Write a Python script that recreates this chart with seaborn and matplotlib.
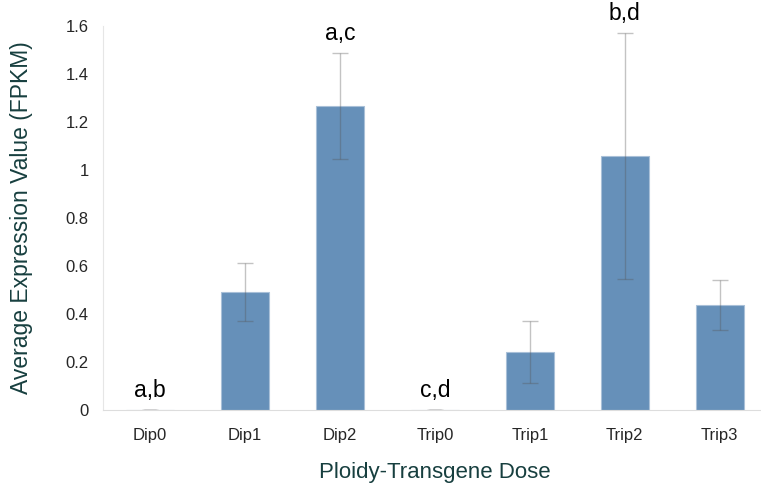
import matplotlib
matplotlib.use("Agg")
import matplotlib.pyplot as plt
import seaborn as sns
import pandas as pd

# data
groups = ["Dip0", "Dip1", "Dip2", "Trip0", "Trip1", "Trip2", "Trip3"]
fpkm = [0.0, 0.49, 1.267, 0.0, 0.242, 1.058, 0.438]
err = [0.0, 0.12, 0.22, 0.0, 0.128, 0.512, 0.104]
letters = ["a,b", "", "a,c", "c,d", "", "b,d", ""]

df = pd.DataFrame({"group": groups, "fpkm": fpkm, "err": err})

sns.set_style("white")
plt.rcParams['font.family'] = ['Liberation Sans', 'DejaVu Sans']

fig = plt.figure(figsize=(7.61, 4.88), dpi=100)
ax = fig.add_axes([0.135, 0.16, 0.873, 0.787])

sns.barplot(data=df, x="group", y="fpkm", color="#6690b9", saturation=1,
            width=0.505, ax=ax, errorbar=None)
for p in ax.patches:
    p.set_edgecolor("#a9c0d8")
    p.set_linewidth(0.8)

ax.errorbar(range(len(groups)), df["fpkm"], yerr=df["err"], fmt="none",
            ecolor="#555555", alpha=0.35, elinewidth=1, capsize=6, capthick=1)

# flat dash for zero bars
for i, v in enumerate(fpkm):
    if v == 0:
        ax.plot([i - 0.06, i + 0.06], [0, 0], color="#888888", lw=1)

# significance letters
for i, lab in enumerate(letters):
    if lab:
        top = fpkm[i] + err[i]
        ax.text(i, top + 0.035, lab, ha="center", va="bottom",
                fontsize=16.5, color="black", clip_on=False)

ax.set_xlim(-0.5, 6.5)
ax.set_ylim(0, 1.6)
ax.set_yticks([0, 0.2, 0.4, 0.6, 0.8, 1.0, 1.2, 1.4, 1.6])
ax.set_yticklabels(["0", "0.2", "0.4", "0.6", "0.8", "1", "1.2", "1.4", "1.6"])

ax.set_xticks([i - 0.5 for i in range(len(groups) + 1)], minor=True)
ax.tick_params(axis="x", which="major", length=0, labelsize=12, pad=13)
ax.tick_params(axis="x", which="minor", length=7, color="#dddddd", width=1)
ax.tick_params(axis="y", length=5, color="#dddddd", width=1, labelsize=12, pad=5)

for s in ["top", "right"]:
    ax.spines[s].set_visible(False)
ax.spines["left"].set_color("#e6e6e6")
ax.spines["bottom"].set_color("#dddddd")

ax.set_xlabel("Ploidy-Transgene Dose", fontsize=16, color="#173f3f", labelpad=14)
ax.set_ylabel("Average Expression Value (FPKM)", fontsize=16.5, color="#173f3f")
ax.yaxis.set_label_coords(-0.105, 0.5)

fig.savefig("out.png", dpi=100)
